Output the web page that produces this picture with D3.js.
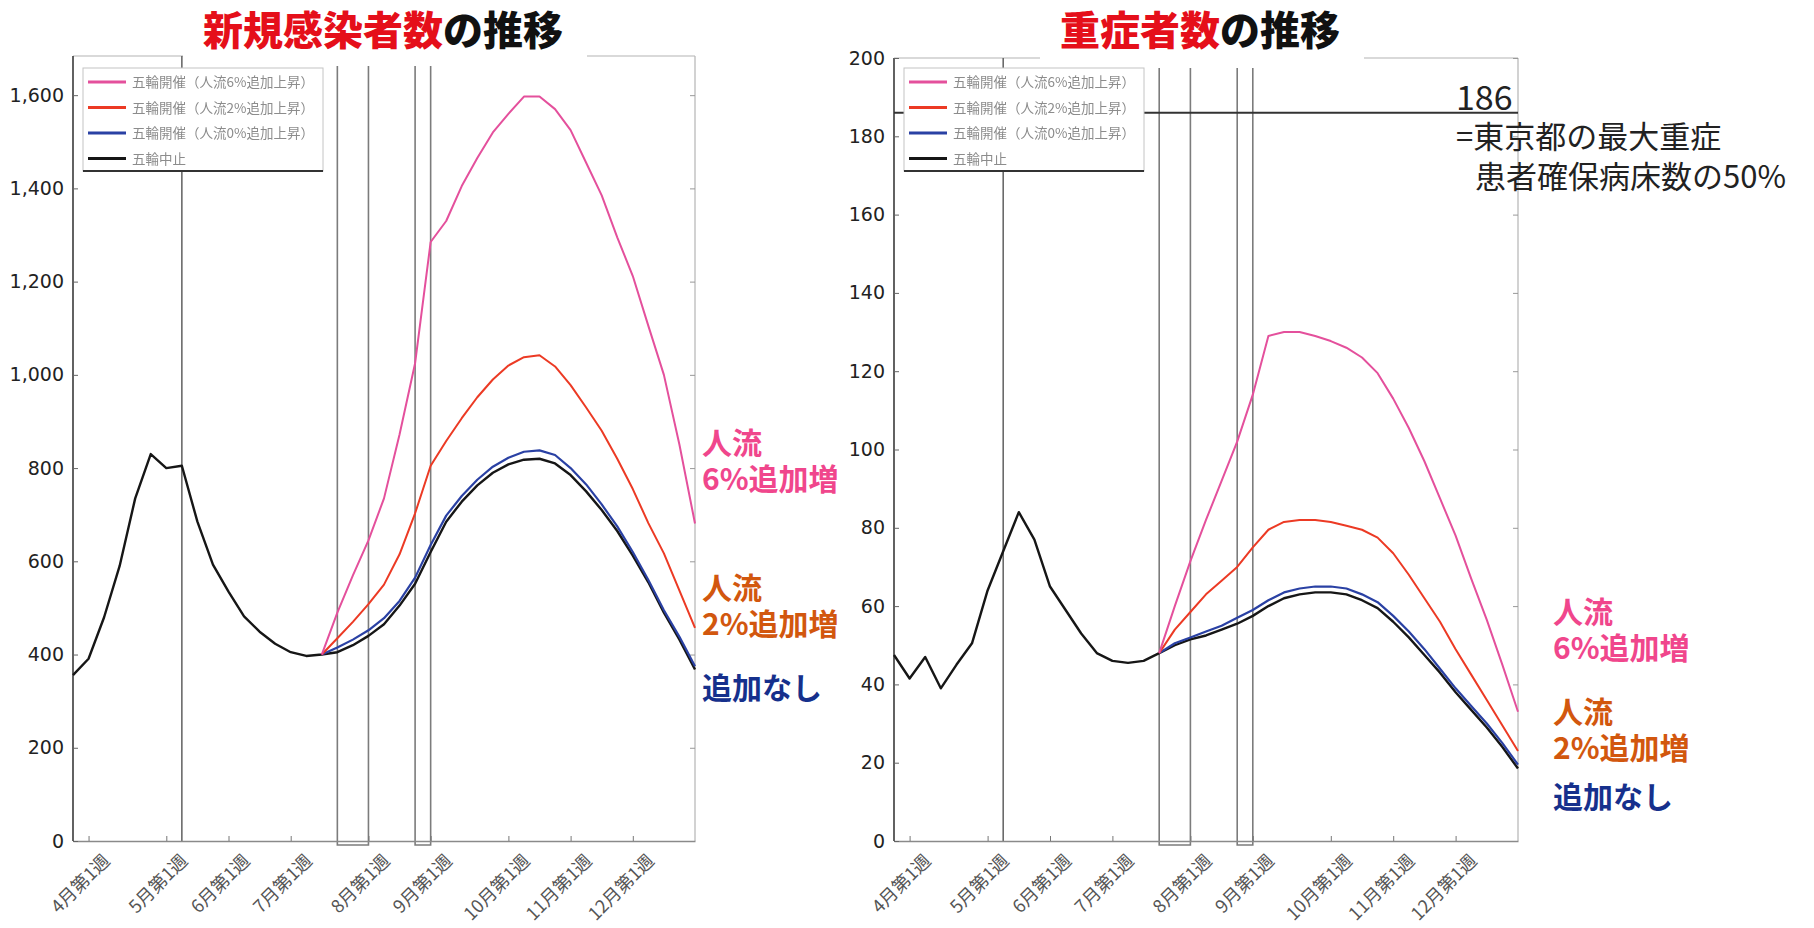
<!DOCTYPE html>
<html>
<head>
<meta charset="utf-8">
<script src="https://cdn.jsdelivr.net/npm/d3@7"></script>
<style>
  html, body { margin: 0; padding: 0; background: #fff; }
  svg { display: block; }
</style>
</head>
<body>
<svg id="chart" width="1814" height="928"></svg>
<script>
// ---- shared week axis (week 0 = last week of March) ----
const weekTicks  = [1, 6, 10, 14, 19, 23, 28, 32, 36];
const weekLabels = ["4月第1週", "5月第1週", "6月第1週", "7月第1週", "8月第1週",
                    "9月第1週", "10月第1週", "11月第1週", "12月第1週"];
const lastWeek = 40;
const markerWeek = 7;
const olympicWeeks = [17, 19];
const paralympicWeeks = [22, 23];

const seriesNames = ["五輪開催（人流6%追加上昇）", "五輪開催（人流2%追加上昇）",
                     "五輪開催（人流0%追加上昇）", "五輪中止"];

// ---- new infections per day (weekly) ----
const casesTicks = [0, 200, 400, 600, 800, 1000, 1200, 1400, 1600];
const casesCancel = [356, 391, 480, 590, 735, 830, 800, 805, 685, 593, 535, 482, 449, 423,
                     405, 397, 400, 405, 420, 440, 465, 505, 552, 620, 685, 728, 763, 790,
                     808, 818, 820, 810, 785, 750, 710, 665, 612, 555, 490, 432, 368];
const casesStartWeek = 16;
const casesFlow6 = [400, 490, 570, 645, 735, 872, 1025, 1285, 1330, 1405, 1465, 1520, 1560,
                    1597, 1597, 1570, 1525, 1455, 1385, 1295, 1212, 1105, 1000, 850, 681];
const casesFlow2 = [400, 435, 470, 508, 550, 615, 703, 805, 858, 907, 952, 990, 1020,
                    1038, 1042, 1018, 978, 930, 880, 820, 755, 682, 617, 537, 457];
const casesFlow0 = [400, 415, 432, 452, 478, 515, 565, 635, 698, 740, 775, 803, 822,
                    835, 838, 828, 800, 765, 722, 675, 620, 560, 495, 438, 375];

// ---- severe cases ----
const severeTicks = [0, 20, 40, 60, 80, 100, 120, 140, 160, 180, 200];
const severeCancel = [47.5, 41.5, 47, 39, 45, 50.5, 64, 74, 84, 77, 65, 59, 53, 48, 46,
                      45.5, 46, 48, 50, 51.5, 52.5, 54, 55.5, 57.5, 60, 62, 63, 63.5, 63.5,
                      63, 61.5, 59.5, 56, 52, 47.5, 43, 38, 33.5, 29, 24, 18.5];
const severeStartWeek = 17;
const severeFlow6 = [48, 60, 71.5, 82, 92, 102, 114, 129, 130, 130, 129, 127.7, 126,
                     123.5, 119.5, 113, 105.5, 97, 87.5, 78, 67, 56.5, 45, 33];
const severeFlow2 = [48, 54, 58.5, 63, 66.5, 70, 75, 79.5, 81.5, 82, 82, 81.5, 80.5,
                     79.5, 77.5, 73.5, 68, 62, 56, 49, 42.5, 36, 29.5, 23];
const severeFlow0 = [48, 50.5, 52, 53.5, 55, 57, 59, 61.5, 63.5, 64.5, 65, 65, 64.5,
                     63, 61, 57.5, 53.5, 49, 44, 39, 34.5, 30, 25, 19.5];
const severeCapacity = 186;
const capacityNote = ["=東京都の最大重症", "患者確保病床数の50%"];

const lineColors = ["#e4509c", "#ec3a24", "#2a41a4", "#161616"];
const noteColors = ["#f0468c", "#d2570e", "#16308c"];

const svg = d3.select("#chart");
const defs = svg.append("defs");
defs.append("filter").attr("id", "soft")
  .append("feGaussianBlur").attr("stdDeviation", 0.45);

const cjk = "'Noto Sans CJK JP', 'Noto Sans CJK SC', sans-serif";

function toPoints(values, start) {
  return values.map((v, i) => ({ w: start + i, v }));
}

function drawPanel(cfg) {
  const g = svg.append("g");
  const x = d3.scaleLinear().domain([0, lastWeek]).range([cfg.left, cfg.right]);
  const y = d3.scaleLinear().domain([0, cfg.yMax]).range([cfg.bottom, cfg.top]);

  // title
  const t = g.append("text")
    .attr("x", cfg.titleX).attr("y", 45)
    .attr("text-anchor", "middle")
    .style("font-family", cjk).style("font-weight", 900).style("font-size", "40px");
  t.append("tspan").attr("fill", "#e50f1a").text(cfg.titleRed);
  t.append("tspan").attr("fill", "#111").text("の推移");

  // frame: right border and partial top border
  g.append("line").attr("x1", cfg.right).attr("x2", cfg.right)
    .attr("y1", cfg.top).attr("y2", cfg.bottom)
    .attr("stroke", "#b4b4b4").attr("stroke-width", 1.2);
  cfg.topSegments.forEach(([a, b]) => {
    g.append("line").attr("x1", a).attr("x2", b)
      .attr("y1", cfg.top).attr("y2", cfg.top)
      .attr("stroke", "#b4b4b4").attr("stroke-width", 1.2);
  });

  // mirrored ticks on the right border
  g.append("g").attr("transform", `translate(${cfg.right},0)`)
    .call(d3.axisLeft(y).tickValues(cfg.ticks).tickSizeInner(5).tickSizeOuter(0).tickFormat(""))
    .call(s => s.select(".domain").remove())
    .call(s => s.selectAll("line").attr("stroke", "#999"));

  // event markers
  g.append("line")
    .attr("x1", x(markerWeek)).attr("x2", x(markerWeek))
    .attr("y1", cfg.top).attr("y2", cfg.bottom)
    .attr("stroke", "#6a6a6a").attr("stroke-width", 1.6);
  [olympicWeeks, paralympicWeeks].forEach(([a, b]) => {
    const top = cfg.top + 10, bot = cfg.bottom + 4;
    g.append("path")
      .attr("d", `M${x(a)},${top}V${bot}H${x(b)}V${top}`)
      .attr("fill", "none").attr("stroke", "#7c7c7c").attr("stroke-width", 1.6);
  });

  // x axis
  const xa = g.append("g").attr("transform", `translate(0,${cfg.bottom})`)
    .call(d3.axisBottom(x).tickValues(weekTicks).tickSizeInner(-5).tickSizeOuter(0)
      .tickFormat((d, i) => weekLabels[i]));
  xa.select(".domain").attr("stroke", "#8a8a8a").attr("stroke-width", 1.3);
  xa.selectAll(".tick line").attr("stroke", "#777");
  xa.selectAll(".tick text")
    .attr("x", 0).attr("y", 0).attr("dy", 0)
    .attr("transform", "translate(22,21) rotate(-45)")
    .style("text-anchor", "end")
    .style("font-family", cjk).style("font-size", "18px").attr("fill", "#555");

  // y axis
  const ya = g.append("g").attr("transform", `translate(${cfg.left},0)`)
    .call(d3.axisLeft(y).tickValues(cfg.ticks).tickSizeInner(-5).tickSizeOuter(0)
      .tickPadding(9).tickFormat(cfg.fmt));
  ya.select(".domain").attr("stroke", "#3a3a3a").attr("stroke-width", 1.6)
    .attr("d", `M0,${cfg.top}V${cfg.bottom}`);
  ya.selectAll(".tick line").attr("stroke", "#666");
  ya.selectAll(".tick text")
    .style("font-family", "'DejaVu Sans', sans-serif").style("font-size", "19px")
    .attr("fill", "#222");

  // capacity reference line
  if (cfg.capacity) {
    g.append("line")
      .attr("x1", cfg.left).attr("x2", cfg.right)
      .attr("y1", y(cfg.capacity)).attr("y2", y(cfg.capacity))
      .attr("stroke", "#333").attr("stroke-width", 2);
  }

  // series
  const line = d3.line().x(d => x(d.w)).y(d => y(d.v));
  const series = [
    { pts: toPoints(cfg.cancel, 0), color: lineColors[3], width: 2.4 },
    { pts: toPoints(cfg.flow0, cfg.start), color: lineColors[2], width: 2.2 },
    { pts: toPoints(cfg.flow2, cfg.start), color: lineColors[1], width: 2.0 },
    { pts: toPoints(cfg.flow6, cfg.start), color: lineColors[0], width: 2.0 }
  ];
  series.forEach(s => {
    g.append("path").datum(s.pts).attr("d", line)
      .attr("fill", "none").attr("stroke", s.color)
      .attr("stroke-width", s.width).attr("stroke-linejoin", "round");
  });

  // legend
  const lx = cfg.left + 10, ly = 68, lw = 240, lh = 103;
  const lg = g.append("g");
  lg.append("rect").attr("x", lx).attr("y", ly).attr("width", lw).attr("height", lh)
    .attr("fill", "#fff").attr("stroke", "#c4c4c4").attr("stroke-width", 1);
  lg.append("line").attr("x1", lx).attr("x2", lx + lw).attr("y1", ly + lh).attr("y2", ly + lh)
    .attr("stroke", "#333").attr("stroke-width", 2);
  seriesNames.forEach((name, i) => {
    const ry = ly + 14 + i * 25.5;
    lg.append("line").attr("x1", lx + 5).attr("x2", lx + 43).attr("y1", ry).attr("y2", ry)
      .attr("stroke", lineColors[i]).attr("stroke-width", 3);
    lg.append("text").attr("x", lx + 49).attr("y", ry + 5)
      .style("font-family", cjk).style("font-size", "13.5px")
      .attr("fill", "#8c8c8c").attr("filter", "url(#soft)").text(name);
  });

  // scenario notes
  const notes = [
    { lines: ["人流", "6%追加増"], color: noteColors[0], y: cfg.noteY[0] },
    { lines: ["人流", "2%追加増"], color: noteColors[1], y: cfg.noteY[1] },
    { lines: ["追加なし"], color: noteColors[2], y: cfg.noteY[2] }
  ];
  notes.forEach(n => {
    const nt = g.append("text").attr("x", cfg.noteX).attr("y", n.y)
      .style("font-family", cjk).style("font-weight", 700).style("font-size", "30px")
      .attr("fill", n.color);
    n.lines.forEach((s, j) => {
      nt.append("tspan").attr("x", cfg.noteX).attr("dy", j === 0 ? 0 : 36).text(s);
    });
  });

  return { x, y, g };
}

drawPanel({
  left: 73, right: 695, top: 56, bottom: 841, yMax: 1684,
  ticks: casesTicks, fmt: d3.format(","),
  titleX: 383, titleRed: "新規感染者数",
  topSegments: [[73, 183], [587, 695]],
  cancel: casesCancel, start: casesStartWeek,
  flow6: casesFlow6, flow2: casesFlow2, flow0: casesFlow0,
  noteX: 702, noteY: [454, 599, 699]
});

const right = drawPanel({
  left: 894, right: 1518, top: 58, bottom: 841, yMax: 200,
  ticks: severeTicks, fmt: d3.format("d"),
  titleX: 1200, titleRed: "重症者数",
  topSegments: [[894, 1040], [1364, 1518]],
  cancel: severeCancel, start: severeStartWeek,
  flow6: severeFlow6, flow2: severeFlow2, flow0: severeFlow0,
  capacity: severeCapacity,
  noteX: 1553, noteY: [623, 723, 808]
});

// capacity annotation
const ay = right.y(severeCapacity);
right.g.append("text").attr("x", 1456).attr("y", ay - 3)
  .style("font-family", cjk).style("font-size", "34px").attr("fill", "#222")
  .text(String(severeCapacity));
const note = right.g.append("text").attr("y", ay + 35)
  .style("font-family", cjk).style("font-size", "31px").attr("fill", "#222");
note.append("tspan").attr("x", 1456).text(capacityNote[0]);
note.append("tspan").attr("x", 1475).attr("dy", 40).text(capacityNote[1]);
</script>
</body>
</html>
